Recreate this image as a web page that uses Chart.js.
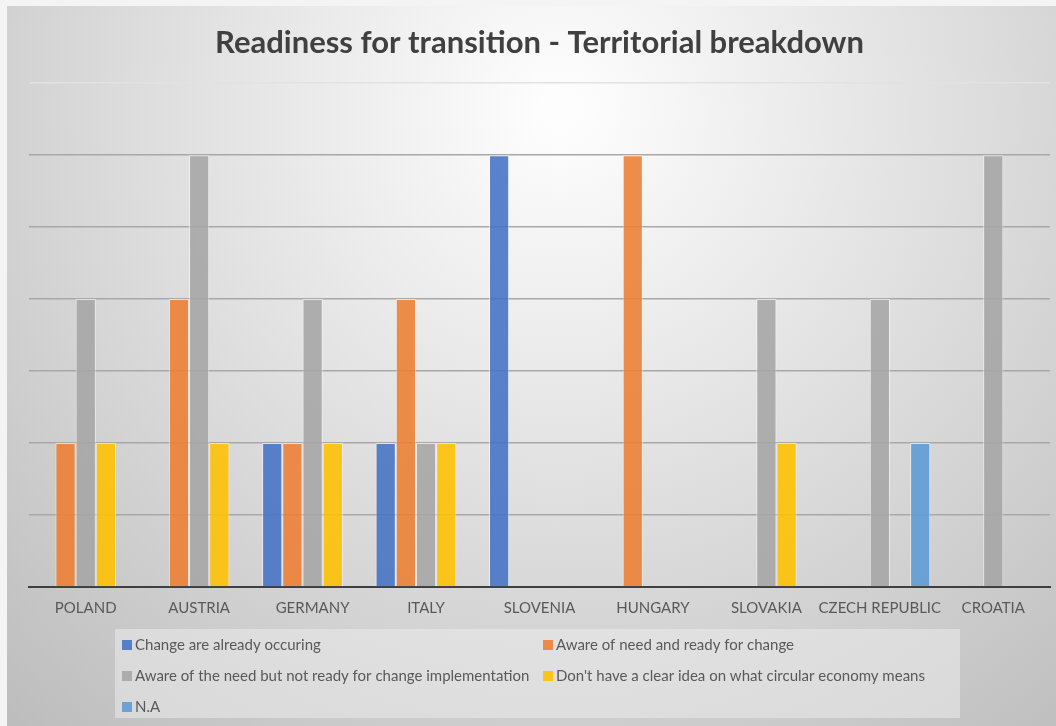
<!DOCTYPE html>
<html>
<head>
<meta charset="utf-8">
<script src="https://cdn.jsdelivr.net/npm/chart.js@4.4.1/dist/chart.umd.min.js"></script>
<style>
  html, body { margin: 0; padding: 0; background: #f4f4f4; }
  #wrap { position: relative; width: 1056px; height: 726px; }
</style>
</head>
<body>
<div id="wrap"><canvas id="readiness"></canvas></div>
<script>
// Countries and answers per readiness category
var countries = ["POLAND", "AUSTRIA", "GERMANY", "ITALY", "SLOVENIA", "HUNGARY", "SLOVAKIA", "CZECH REPUBLIC", "CROATIA"];
var alreadyOccuring = [0, 0, 1, 1, 3, 0, 0, 0, 0];
var readyForChange  = [1, 2, 1, 2, 0, 3, 0, 0, 0];
var notReadyYet     = [2, 3, 2, 1, 0, 0, 2, 2, 3];
var noClearIdea     = [1, 1, 1, 1, 0, 0, 1, 0, 0];
var notAvailable    = [0, 0, 0, 0, 0, 0, 0, 1, 0];
var seriesNames = [
    "Change are already occuring",
    "Aware of need and ready for change",
    "Aware of the need but not ready for change implementation",
    "Don't have a clear idea on what circular economy means",
    "N.A"
];

var fontFam = "Lato, 'Open Sans', sans-serif";

// gray radial backdrop behind the whole chart
var backdrop = {
    id: "backdrop",
    beforeDraw: function (chart) {
        var c = chart.ctx;
        c.save();
        c.fillStyle = "#f4f4f4";
        c.fillRect(0, 0, chart.width, chart.height);
        var g = c.createRadialGradient(560, 110, 20, 560, 110, 820);
        g.addColorStop(0, "#fdfdfd");
        g.addColorStop(1, "#bdbdbd");
        c.fillStyle = g;
        c.fillRect(7, 6, chart.width - 7, chart.height - 6);
        c.restore();
    }
};

// two column legend in a lighter box under the axis
var boxLegend = {
    id: "boxLegend",
    afterDraw: function (chart) {
        var c = chart.ctx;
        c.save();
        c.fillStyle = "rgba(235,235,235,0.55)";
        c.fillRect(115, 629, 845, 89);
        c.font = "15px " + fontFam;
        c.textBaseline = "middle";
        chart.data.datasets.forEach(function (ds, i) {
            var col = i % 2, row = Math.floor(i / 2);
            var x = col === 0 ? 122 : 543;
            var y = 645 + row * 31;
            c.fillStyle = ds.backgroundColor;
            c.fillRect(x, y - 5, 10, 10);
            c.fillStyle = "#595959";
            c.fillText(ds.label, x + 13, y);
        });
        c.restore();
    }
};

var colors = ["rgba(68,114,196,0.88)", "rgba(237,125,49,0.88)", "rgba(165,165,165,0.88)", "rgba(255,192,0,0.88)", "rgba(91,155,213,0.88)"];
var values = [alreadyOccuring, readyForChange, notReadyYet, noClearIdea, notAvailable];

var ctx = document.getElementById("readiness").getContext("2d");
var readinessChart = new Chart(ctx, {
    type: "bar",
    data: {
        labels: countries,
        datasets: values.map(function (v, i) {
            return {
                label: seriesNames[i],
                data: v,
                backgroundColor: colors[i],
                borderColor: "rgba(255,255,255,0.55)",
                borderWidth: 1,
                categoryPercentage: 0.89,
                barPercentage: 1
            };
        })
    },
    options: {
        responsive: true,
        maintainAspectRatio: false,
        animation: false,
        layout: { padding: { left: 29, right: 6, bottom: 105 } },
        plugins: {
            legend: { display: false },
            tooltip: { enabled: false },
            title: {
                display: true,
                text: "Readiness for transition - Territorial breakdown",
                color: "#404040",
                font: { family: fontFam, size: 31, weight: "bold" },
                padding: { top: 24, bottom: 22 }
            }
        },
        scales: {
            x: {
                grid: { display: false },
                border: { color: "#3f3f3f", width: 2 },
                ticks: { color: "#595959", font: { family: fontFam, size: 15 }, padding: 4, maxRotation: 0, autoSkip: false }
            },
            y: {
                min: 0,
                max: 3.5,
                ticks: { display: false, stepSize: 0.5 },
                border: { display: false },
                grid: {
                    drawTicks: false,
                    lineWidth: 1.5,
                    color: function (c) { return c.tick && c.tick.value === 3.5 ? "#e2e2e2" : "#a8a8a8"; }
                }
            }
        }
    },
    plugins: [backdrop, boxLegend]
});
</script>
</body>
</html>
